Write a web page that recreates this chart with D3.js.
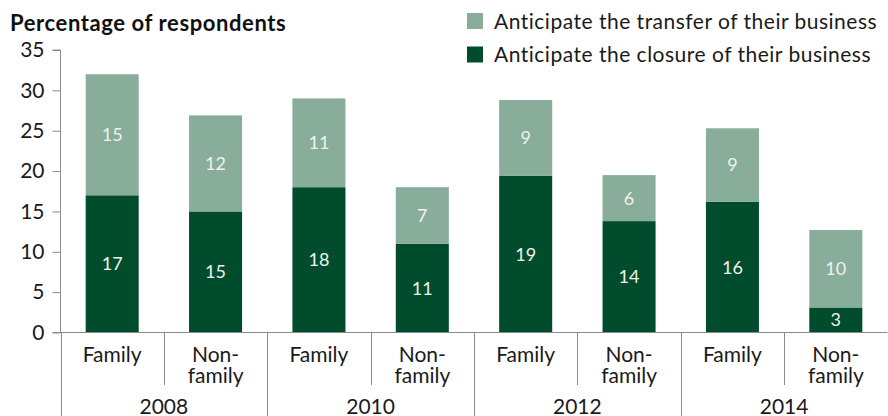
<!DOCTYPE html>
<html>
<head>
<meta charset="utf-8">
<script src="https://cdn.jsdelivr.net/npm/d3@7/dist/d3.min.js"></script>
<style>
  html, body { margin: 0; padding: 0; background: #fff; }
  svg { display: block; font-family: "Lato", "Open Sans", sans-serif; }
</style>
</head>
<body>
<svg id="chart" width="888" height="416"></svg>
<script>
// Survey years and respondent groups
const years = ["2008", "2010", "2012", "2014"];
const groups = ["Family", "Non-family"];
const groupLines = { "Family": ["Family"], "Non-family": ["Non-", "family"] };

// Share of respondents (%) per year/group, in year order, Family then Non-family
const closure  = [17.0, 15.0, 18.0, 11.0, 19.4, 13.8, 16.2, 3.1];
const transfer = [15.0, 11.9, 11.0,  7.0,  9.4,  5.7,  9.1, 9.6];

const yTicks = [0, 5, 10, 15, 20, 25, 30, 35];
const seriesNames = [
  "Anticipate the transfer of their business",
  "Anticipate the closure of their business"
];
const colors = { transfer: "#88ad9a", closure: "#014c2d" };

const rows = [];
years.forEach((yr, i) => groups.forEach((g, j) => {
  const k = i * groups.length + j;
  rows.push({ key: yr + "|" + g, year: yr, group: g, closure: closure[k], transfer: transfer[k] });
}));

const svg = d3.select("#chart");
const plotLeft = 60.5, plotRight = 887.5, plotTop = 50, plotBottom = 332.5;
const axisColor = "#8c8c8c";
const textColor = "#1a1a1a";

const x = d3.scaleBand().domain(rows.map(d => d.key)).range([plotLeft, plotRight])
  .paddingInner(0.487).paddingOuter(0.2435);
const xYear = d3.scaleBand().domain(years).range([plotLeft, plotRight]);
const y = d3.scaleLinear().domain([0, 35]).range([plotBottom, plotTop]);

const stack = d3.stack().keys(["closure", "transfer"]);
const layers = stack(rows);

svg.append("g").selectAll("g").data(layers).join("g")
  .attr("fill", d => colors[d.key])
  .selectAll("rect").data(d => d.map(s => ({ s, key: d.key })))
  .join("rect")
  .attr("x", d => x(d.s.data.key))
  .attr("width", x.bandwidth())
  .attr("y", d => y(d.s[1]))
  .attr("height", d => y(d.s[0]) - y(d.s[1]));

// Value labels centred in each segment
svg.append("g").selectAll("g").data(layers).join("g")
  .selectAll("text").data(d => d.map(s => ({ s, key: d.key })))
  .join("text")
  .attr("x", d => x(d.s.data.key) + x.bandwidth() / 2)
  .attr("y", d => (y(d.s[0]) + y(d.s[1])) / 2)
  .attr("dy", "0.36em")
  .attr("text-anchor", "middle")
  .attr("fill", "#eef2ec")
  .attr("font-size", 18)
  .text(d => d3.format(".0f")(d.s[1] - d.s[0]));

// Y axis
const yAxis = svg.append("g").attr("transform", `translate(${plotLeft},0)`)
  .call(d3.axisLeft(y).tickValues(yTicks).tickSize(8).tickPadding(8));
yAxis.select(".domain").attr("stroke", axisColor).attr("d", `M-8,${plotTop}H0V${plotBottom}`);
yAxis.selectAll(".tick line").attr("stroke", axisColor);
yAxis.selectAll(".tick text").attr("font-size", 21).attr("fill", textColor)
  .attr("font-family", "Lato, sans-serif");

// X axis baseline
svg.append("line").attr("x1", plotLeft - 8).attr("x2", plotRight).attr("y1", plotBottom).attr("y2", plotBottom)
  .attr("stroke", axisColor);

// Separators between groups within a year
const xg = svg.append("g");
years.forEach(yr => {
  const mid = xYear(yr) + xYear.bandwidth() / 2;
  xg.append("line").attr("x1", Math.round(mid) + 0.5).attr("x2", Math.round(mid) + 0.5)
    .attr("y1", plotBottom).attr("y2", 385).attr("stroke", axisColor);
});
// Separators between years
years.concat(["end"]).forEach((yr, i) => {
  const xx = i < years.length ? xYear(yr) : plotRight;
  xg.append("line").attr("x1", Math.round(xx) + 0.5).attr("x2", Math.round(xx) + 0.5)
    .attr("y1", plotBottom).attr("y2", 416).attr("stroke", axisColor);
});

// Group labels, one text per line
rows.forEach(d => {
  const cx = x(d.key) + x.bandwidth() / 2;
  groupLines[d.group].forEach((line, i) => {
    xg.append("text").attr("x", cx).attr("y", 362 + i * 21)
      .attr("text-anchor", "middle").attr("font-size", 21)
      .attr("fill", textColor).text(line);
  });
});
// Year labels
years.forEach(yr => {
  xg.append("text").attr("x", xYear(yr) + xYear.bandwidth() / 2).attr("y", 414)
    .attr("text-anchor", "middle").attr("font-size", 21).attr("fill", textColor).text(yr);
});

// Title
svg.append("text").attr("x", 10).attr("y", 31).attr("font-size", 22)
  .attr("font-weight", "bold").attr("letter-spacing", 0.6)
  .attr("fill", "#111").text("Percentage of respondents");

// Legend
const legend = svg.append("g").attr("transform", "translate(467,13)");
[["transfer", seriesNames[0]], ["closure", seriesNames[1]]].forEach(([k, name], i) => {
  const g = legend.append("g").attr("transform", `translate(0,${i * 33.5})`);
  g.append("rect").attr("width", 16).attr("height", 16).attr("fill", colors[k]);
  g.append("text").attr("x", 27).attr("y", 15.5).attr("font-size", 21)
    .attr("letter-spacing", 0.5).attr("fill", textColor).text(name);
});
</script>
</body>
</html>
